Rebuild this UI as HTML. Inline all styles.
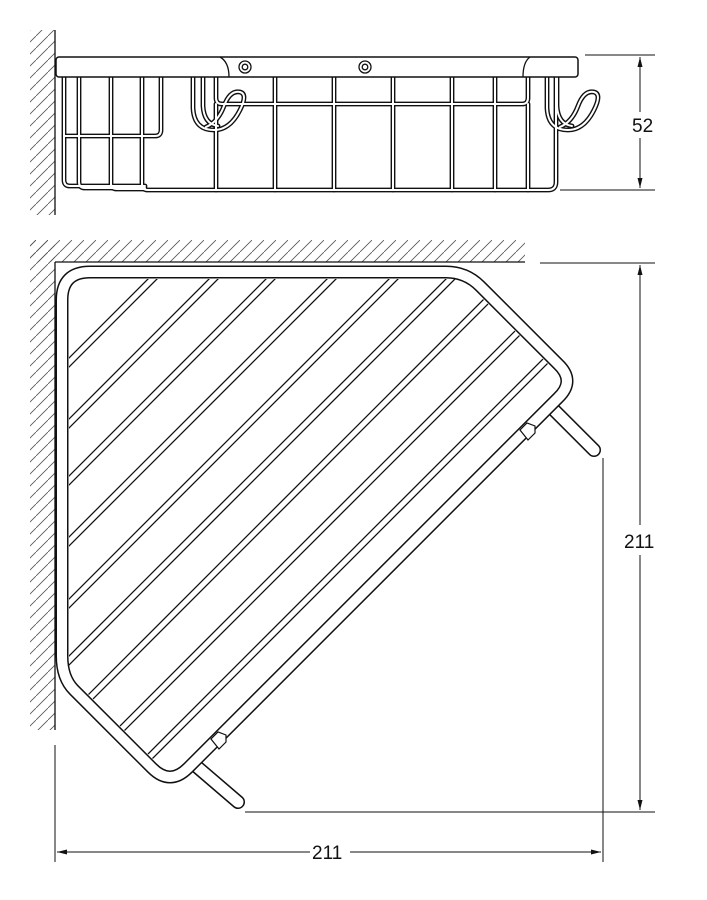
<!DOCTYPE html>
<html><head><meta charset="utf-8"><style>
html,body{margin:0;padding:0;background:#fff;}
svg{display:block;}
text{font-family:"Liberation Sans",sans-serif;font-size:19px;fill:#111;}
</style></head><body>
<svg width="707" height="900" viewBox="0 0 707 900" xmlns="http://www.w3.org/2000/svg">
<defs>
<pattern id="h" patternUnits="userSpaceOnUse" width="12" height="12">
<line x1="-1" y1="13" x2="13" y2="-1" stroke="#555" stroke-width="0.8"/>
</pattern>
<clipPath id="inner">
<polygon points="69,279 463,279 565,381 170,776 69,675"/>
</clipPath>
<marker id="ar" viewBox="0 0 10 10" refX="10" refY="5" markerWidth="10" markerHeight="10" markerUnits="userSpaceOnUse" orient="auto-start-reverse">
<path d="M0,2.5 L10,5 L0,7.5 z" fill="#111"/>
</marker>
<g id="wireset">
<path d="M142 76 V184 Q142 190 148 190 H548 Q556 190 556 182 V76"/>
<path d="M64 76 V180 Q64 186 70 186 H145"/>
<path d="M79 76 V182 Q79 188 85 188 H145"/>
<path d="M111 76 V184 Q111 189 117 189 H145"/>
<path d="M64 136 H155 Q161 136 161 130 V76"/>
<path d="M216 76 V98 Q216 104 222 104 H522 Q528 104 528 98 V76"/>
<path d="M216 104 V190 M275 76 V190 M334 76 V190 M393 76 V190 M452 76 V190 M495 76 V190 M528 104 V190"/>
<path d="M193 76 V108 Q194 130 214 130 Q230 130 240 110 Q248 94 240 92 Q230 90 224 106 Q218 122 206 127"/>
<path d="M203 76 V106 Q204 124 218 126"/>
<path d="M547 76 V108 Q548 130 568 130 Q584 130 594 110 Q602 94 594 92 Q584 90 578 106 Q572 122 560 127"/>
<path d="M557 76 V106 Q558 124 572 126"/>
</g>
<path id="pegs" d="M555 411 L594 450 M196 766 L238 802"/>
<path id="fr" d="M62 300 Q62 272 90 272 L446 272 Q466 272 480 286 L558 364 Q576 381 558 398 L188 768 Q170 786 152 768 L74 690 Q62 678 62 656 Z"/>
</defs>

<rect x="30" y="30" width="25" height="185" fill="url(#h)"/>
<rect x="30" y="240" width="25" height="490" fill="url(#h)"/>
<rect x="30" y="240" width="495" height="22" fill="url(#h)"/>
<line x1="55" y1="30" x2="55" y2="215" stroke="#111" stroke-width="1.3"/>
<line x1="55" y1="262" x2="55" y2="730" stroke="#111" stroke-width="1.3"/>
<line x1="55" y1="262" x2="525" y2="262" stroke="#111" stroke-width="1.3"/>

<g fill="none" stroke-linecap="round" stroke-linejoin="round">
<use href="#wireset" stroke="#111" stroke-width="4.8"/>
<use href="#wireset" stroke="#fff" stroke-width="2"/>
</g>
<rect x="56" y="57" width="522" height="20" rx="3" fill="#fff" stroke="#111" stroke-width="1.5"/>
<path d="M220 57 Q229 62 229 77 M530 57 Q523 62 523 77" fill="none" stroke="#111" stroke-width="1.3"/>
<g fill="#fff" stroke="#111" stroke-width="1.3">
<circle cx="245" cy="67" r="6"/><circle cx="245" cy="67" r="2.8"/>
<circle cx="365" cy="67" r="6"/><circle cx="365" cy="67" r="2.8"/>
</g>

<g fill="none" stroke-linecap="round">
<use href="#pegs" stroke="#111" stroke-width="14"/>
<use href="#pegs" stroke="#fff" stroke-width="11"/>
</g>
<g clip-path="url(#inner)" stroke="#111" stroke-width="1.3">
<path d="M0 427 L427 0 M0 436 L436 0 M0 488 L488 0 M0 497 L497 0 M0 545 L545 0 M0 554 L554 0 M0 606 L606 0 M0 615 L615 0 M0 668 L668 0 M0 677 L677 0 M0 725 L725 0 M0 734 L734 0 M0 783 L783 0 M0 792 L792 0 M0 846 L846 0 M0 855 L855 0 M0 902 L902 0 M0 911 L911 0"/>
</g>
<g fill="none" stroke-linejoin="round">
<use href="#fr" stroke="#111" stroke-width="13"/>
<use href="#fr" stroke="#fff" stroke-width="10"/>
</g>
<g fill="#fff" stroke="#111" stroke-width="1.2">
<path d="M520 430 L527 423 L535 426 L535 433 L528 440 Z"/>
<path d="M211 739 L218 732 L226 735 L226 742 L219 749 Z"/>
</g>

<g stroke="#111" stroke-width="1">
<line x1="585" y1="55" x2="655" y2="55"/>
<line x1="560" y1="190" x2="655" y2="190"/>
<line x1="640" y1="112" x2="640" y2="57" marker-end="url(#ar)"/>
<line x1="640" y1="138" x2="640" y2="188" marker-end="url(#ar)"/>
<line x1="540" y1="263" x2="655" y2="263"/>
<line x1="245" y1="812" x2="655" y2="812"/>
<line x1="640" y1="525" x2="640" y2="265" marker-end="url(#ar)"/>
<line x1="640" y1="555" x2="640" y2="810" marker-end="url(#ar)"/>
<line x1="55" y1="745" x2="55" y2="862"/>
<line x1="603" y1="458" x2="603" y2="862"/>
<line x1="310" y1="852" x2="57" y2="852" marker-end="url(#ar)"/>
<line x1="350" y1="852" x2="601" y2="852" marker-end="url(#ar)"/>
</g>
<text x="632" y="132">52</text>
<text x="624" y="548">211</text>
<text x="312" y="859">211</text>
</svg>
</body></html>
